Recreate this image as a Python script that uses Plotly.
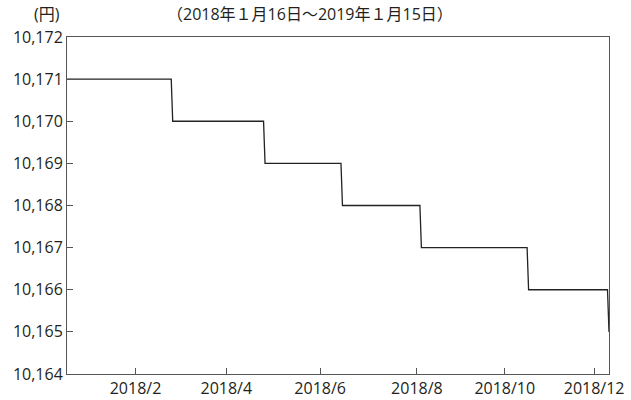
import plotly.graph_objects as go

# Daily price points around each change (date, price in yen)
dates = ["2018-01-16", "2018-03-27", "2018-03-28", "2018-05-28", "2018-05-29",
         "2018-07-19", "2018-07-20", "2018-09-10", "2018-09-11",
         "2018-11-21", "2018-11-22", "2019-01-14", "2019-01-15"]
prices = [10171, 10171, 10170, 10170, 10169,
          10169, 10168, 10168, 10167,
          10167, 10166, 10166, 10165]

x_tick_vals = ["2018-03-03", "2018-05-03", "2018-07-05", "2018-09-08", "2018-11-06", "2019-01-05"]
x_tick_text = ["2018/2", "2018/4", "2018/6", "2018/8", "2018/10", "2018/12"]
y_tick_vals = [10164, 10165, 10166, 10167, 10168, 10169, 10170, 10171, 10172]
y_tick_text = ["10,164", "10,165", "10,166", "10,167", "10,168", "10,169", "10,170", "10,171", "10,172"]

unit_label = "(円)"
period_label = "（2018年１月16日～2019年１月15日）"

FONT = "Open Sans, Noto Sans CJK JP"
TXT = "#231f20"
AX = "#555555"
FS = 16

fig = go.Figure()
fig.add_trace(go.Scatter(x=dates, y=prices, mode="lines",
                         line=dict(color="#222222", width=1.3), hoverinfo="skip",
                         showlegend=False))

fig.update_layout(
    width=631, height=400,
    autosize=False,
    margin=dict(l=67, r=22, t=37, b=26, autoexpand=False),
    paper_bgcolor="white", plot_bgcolor="white",
    font=dict(family=FONT, size=FS, color=TXT),
    xaxis=dict(type="date", range=["2018-01-16", "2019-01-15"],
               tickvals=x_tick_vals, ticktext=x_tick_text, automargin=False,
               ticks="inside", ticklen=6, tickcolor=AX, tickwidth=1,
               showline=True, linecolor=AX, linewidth=1, mirror=True,
               showgrid=False, zeroline=False,
               tickfont=dict(family=FONT, size=FS, color=TXT)),
    yaxis=dict(range=[10164, 10172],
               tickvals=y_tick_vals, ticktext=y_tick_text, automargin=False,
               ticks="inside", ticklen=6, tickcolor=AX, tickwidth=1,
               showline=True, linecolor=AX, linewidth=1, mirror=True,
               showgrid=False, zeroline=False,
               tickfont=dict(family=FONT, size=FS, color=TXT)),
    annotations=[
        dict(text=unit_label, xref="paper", yref="paper", x=-0.037, y=1.033,
             xanchor="center", yanchor="bottom", showarrow=False, borderpad=0,
             font=dict(family=FONT, size=FS, color=TXT)),
        dict(text=period_label, xref="paper", yref="paper", x=0.448, y=1.033,
             xanchor="center", yanchor="bottom", showarrow=False, borderpad=0,
             font=dict(family=FONT, size=FS, color=TXT)),
    ],
)

# remove the default 8px page margin so the figure fills the window exactly
fig.write_html("out.html", config={"displayModeBar": False},
               post_script="document.body.style.margin='0';")
